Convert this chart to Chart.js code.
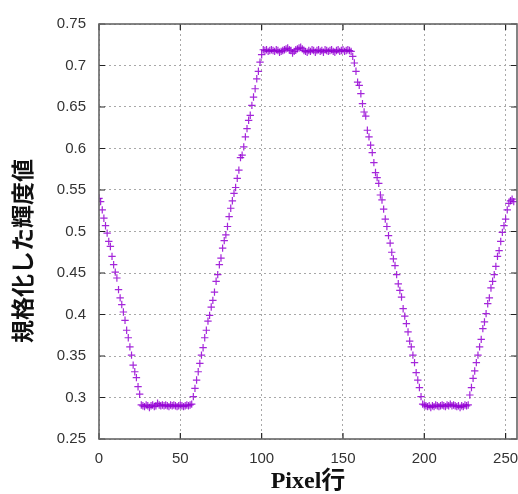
<!DOCTYPE html>
<html>
<head>
<meta charset="utf-8">
<script src="https://cdn.jsdelivr.net/npm/chart.js@4.4.0/dist/chart.umd.min.js"></script>
<style>
  html, body { margin: 0; padding: 0; background: #fff; }
</style>
</head>
<body>
<canvas id="chart" width="518" height="494"></canvas>
<script>
// 規格化した輝度値 (one value per pixel row)
const luminance = [
  // descent 0-25
  0.540, 0.536, 0.526, 0.516, 0.507, 0.498, 0.488, 0.482, 0.470, 0.460,
  0.451, 0.444, 0.430, 0.420, 0.412, 0.403, 0.393, 0.381, 0.372, 0.361,
  0.351, 0.339, 0.331, 0.324, 0.313, 0.304,
  // low plateau 26-57
  0.291, 0.290, 0.289, 0.291, 0.290, 0.288, 0.290, 0.291, 0.289, 0.290,
  0.293, 0.291, 0.290, 0.291, 0.290, 0.291, 0.290, 0.289, 0.291, 0.290,
  0.291, 0.290, 0.289, 0.290, 0.291, 0.290, 0.289, 0.290, 0.291, 0.290,
  0.291, 0.292,
  // rise 58-101
  0.301, 0.311, 0.321, 0.331, 0.341, 0.351, 0.360, 0.372, 0.381, 0.392,
  0.399, 0.409, 0.417, 0.427, 0.440, 0.448, 0.460, 0.468, 0.480, 0.489,
  0.496, 0.506, 0.518, 0.528, 0.537, 0.546, 0.553, 0.564, 0.574, 0.589,
  0.592, 0.602, 0.614, 0.624, 0.634, 0.640, 0.652, 0.662, 0.672, 0.684,
  0.693, 0.704, 0.713, 0.719,
  // high plateau 102-155
  0.718, 0.719, 0.717, 0.718, 0.719, 0.718, 0.717, 0.719, 0.718, 0.716,
  0.717, 0.718, 0.719, 0.720, 0.721, 0.719, 0.718, 0.715, 0.717, 0.719,
  0.720, 0.721, 0.722, 0.720, 0.718, 0.717, 0.716, 0.718, 0.717, 0.719,
  0.718, 0.716, 0.718, 0.719, 0.717, 0.718, 0.716, 0.719, 0.718, 0.717,
  0.718, 0.719, 0.717, 0.716, 0.718, 0.719, 0.717, 0.718, 0.719, 0.717,
  0.718, 0.719, 0.718, 0.717,
  // descent 156-199
  0.711, 0.703, 0.693, 0.680, 0.676, 0.666, 0.654, 0.644, 0.639, 0.622,
  0.614, 0.604, 0.595, 0.583, 0.571, 0.565, 0.558, 0.544, 0.538, 0.527,
  0.515, 0.506, 0.495, 0.486, 0.475, 0.467, 0.459, 0.448, 0.437, 0.429,
  0.421, 0.407, 0.398, 0.389, 0.379, 0.368, 0.361, 0.351, 0.342, 0.330,
  0.321, 0.312, 0.301, 0.292,
  // low plateau 200-227
  0.291, 0.290, 0.289, 0.290, 0.288, 0.290, 0.289, 0.291, 0.290, 0.289,
  0.290, 0.291, 0.290, 0.289, 0.291, 0.290, 0.292, 0.290, 0.291, 0.290,
  0.289, 0.290, 0.288, 0.290, 0.289, 0.291, 0.290, 0.291,
  // rise 228-255
  0.303, 0.312, 0.323, 0.332, 0.342, 0.351, 0.361, 0.370, 0.383, 0.391,
  0.401, 0.413, 0.420, 0.432, 0.440, 0.448, 0.458, 0.470, 0.477, 0.488,
  0.499, 0.507, 0.515, 0.526, 0.534, 0.537, 0.539, 0.536
];

const xTicks = [0, 50, 100, 150, 200, 250];
const yTicks = [0.25, 0.3, 0.35, 0.4, 0.45, 0.5, 0.55, 0.6, 0.65, 0.7, 0.75];

const X_MAX = 257;
const PURPLE = 'rgba(148, 0, 211, 0.85)';
const tickFont = { family: "'Liberation Sans', Arial, sans-serif", size: 15 };
const titleFamily = "'Liberation Serif', 'Noto Sans CJK JP', serif";

// gnuplot-style frame with inward tick marks on all four sides
const framePlugin = {
  id: 'frame',
  afterDatasetsDraw(chart) {
    const { ctx, chartArea: a, scales: { x, y } } = chart;
    ctx.save();
    ctx.strokeStyle = '#222';
    ctx.lineWidth = 1.2;
    ctx.beginPath();
    xTicks.forEach(v => {
      const px = x.getPixelForValue(v);
      ctx.moveTo(px, a.bottom); ctx.lineTo(px, a.bottom - 6);
      ctx.moveTo(px, a.top); ctx.lineTo(px, a.top + 6);
    });
    yTicks.forEach(v => {
      const py = y.getPixelForValue(v);
      ctx.moveTo(a.left, py); ctx.lineTo(a.left + 6, py);
      ctx.moveTo(a.right, py); ctx.lineTo(a.right - 6, py);
    });
    ctx.stroke();
    ctx.strokeStyle = '#666';
    ctx.lineWidth = 1.6;
    ctx.strokeRect(a.left, a.top, a.right - a.left, a.bottom - a.top);
    ctx.restore();
  },
  afterDraw(chart) {
    // y axis title, centred a little below the plot centre like the original
    const { ctx } = chart;
    ctx.save();
    ctx.translate(25, 251);
    ctx.rotate(-Math.PI / 2);
    ctx.font = 'bold 23px ' + titleFamily;
    ctx.fillStyle = '#111';
    ctx.textAlign = 'center';
    ctx.textBaseline = 'middle';
    ctx.fillText('規格化した輝度値', 0, 0);
    ctx.restore();
  }
};

new Chart(document.getElementById('chart'), {
  type: 'scatter',
  data: {
    datasets: [{
      label: 'luminance',
      data: luminance.map((v, i) => ({ x: i, y: v })),
      pointStyle: 'cross',
      pointRadius: 3.7,
      pointBorderWidth: 1.2,
      borderColor: PURPLE,
      backgroundColor: PURPLE
    }]
  },
  options: {
    responsive: false,
    animation: false,
    layout: { autoPadding: false, padding: { top: 24, right: 1, left: 0, bottom: 0 } },
    plugins: {
      legend: { display: false },
      tooltip: { enabled: false }
    },
    scales: {
      x: {
        type: 'linear',
        min: 0,
        max: X_MAX,
        afterBuildTicks: s => { s.ticks = xTicks.map(v => ({ value: v })); },
        afterFit: s => { s.height = 55; s.paddingRight = 0; s.paddingLeft = 0; },
        ticks: {
          font: tickFont,
          color: '#333',
          padding: 11,
          maxRotation: 0,
          callback: v => String(v)
        },
        grid: { color: '#a8a8a8', lineWidth: 1, drawTicks: false },
        border: { display: false, dash: [2, 3] },
        title: {
          display: true,
          text: 'Pixel行',
          color: '#111',
          font: { family: titleFamily, size: 24, weight: 'bold', lineHeight: 1 },
          padding: { top: 0, bottom: 0 }
        }
      },
      y: {
        min: 0.25,
        max: 0.75,
        afterBuildTicks: s => { s.ticks = yTicks.map(v => ({ value: v })); },
        afterFit: s => { s.width = 99; s.paddingTop = 0; s.paddingBottom = 0; },
        ticks: {
          font: tickFont,
          color: '#333',
          padding: 13,
          callback: v => String(Number(v.toFixed(2)))
        },
        grid: { color: '#a8a8a8', lineWidth: 1, drawTicks: false },
        border: { display: false, dash: [2, 3] }
      }
    }
  },
  plugins: [framePlugin]
});
</script>
</body>
</html>
